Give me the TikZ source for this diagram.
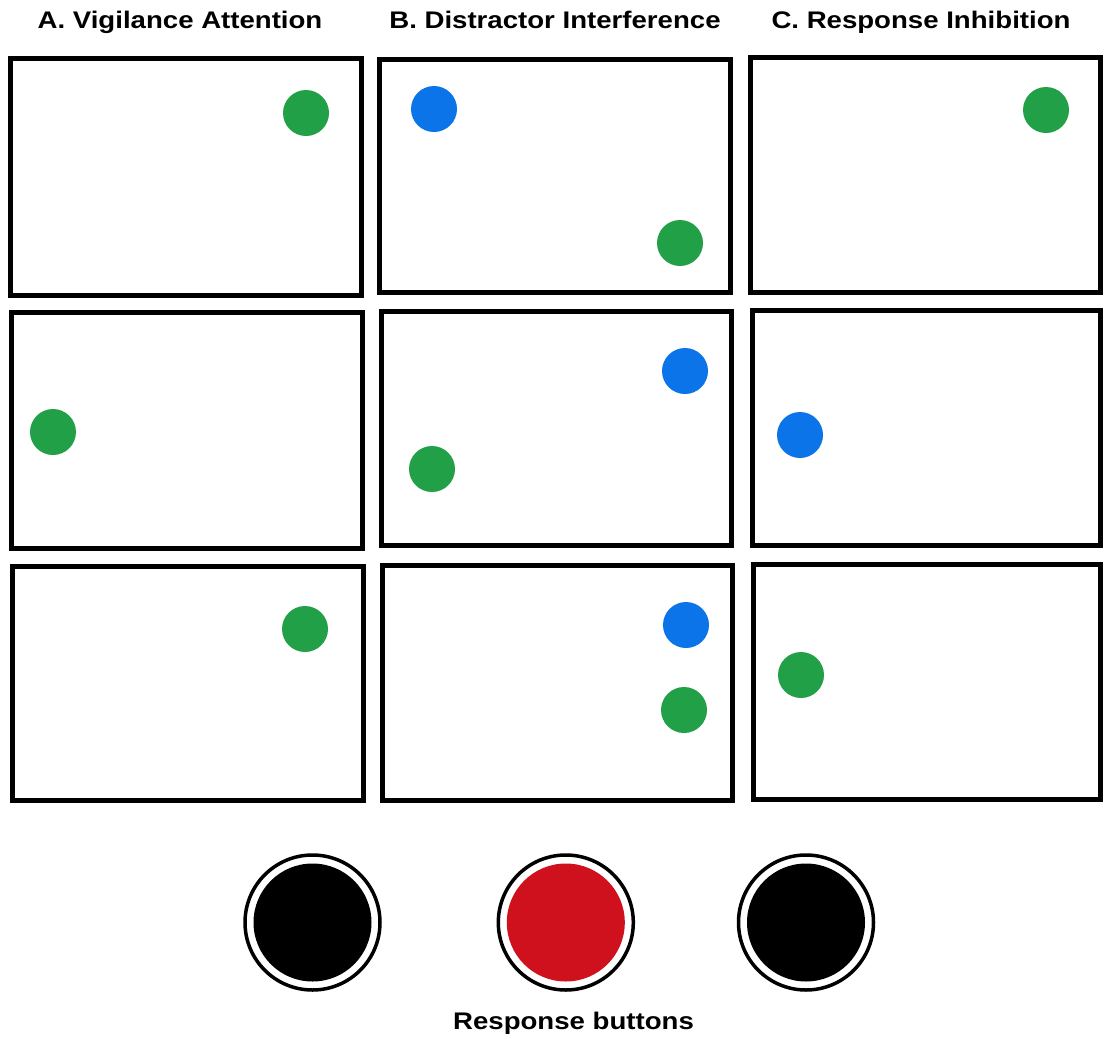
\documentclass[tikz,border=0pt]{standalone}
\usepackage{fontspec}
\setmainfont{Liberation Sans}
\definecolor{dotgreen}{RGB}{33,160,71}
\definecolor{dotblue}{RGB}{10,116,232}
\definecolor{btnred}{RGB}{206,17,28}
\tikzset{
  screen/.style={draw=black, line width=5pt},
  gdot/.style={circle, fill=dotgreen, inner sep=0pt, minimum size=46pt},
  bdot/.style={circle, fill=dotblue, inner sep=0pt, minimum size=46pt},
  ring/.style={circle, draw=black, line width=3.5pt, fill=white, inner sep=0pt, minimum size=135pt},
  core/.style={circle, inner sep=0pt, minimum size=118pt},
  ttl/.style={anchor=base, inner sep=0pt, font=\fontsize{24}{28}\selectfont\bfseries}
}
\newcommand{\wide}[1]{\scalebox{1.15}[1]{#1}}
\begin{document}
\begin{tikzpicture}[x=1pt,y=-1pt]
\useasboundingbox[fill=white] (0,0) rectangle (1104,1039);
% titles
\node[ttl] (tA) at (180,28.5) {\wide{A. Vigilance Attention}};
\node[ttl] (tB) at (555,28.5) {\wide{B. Distractor Interference}};
\node[ttl] (tC) at (921,28.5) {\wide{C. Response Inhibition}};
% screens
\draw[screen] (10.8,58.5) rectangle (361.5,295.5);
\draw[screen] (11.5,312.5) rectangle (362.5,548.5);
\draw[screen] (12.5,566.5) rectangle (363.5,800.5);
\draw[screen] (379.5,59) rectangle (730.5,292.5);
\draw[screen] (381.5,311.5) rectangle (731.5,545.5);
\draw[screen] (382.5,565.5) rectangle (732.5,800.5);
\draw[screen] (750.5,57) rectangle (1100.5,292);
\draw[screen] (752.5,310.5) rectangle (1100.5,545);
\draw[screen] (753,564.5) rectangle (1100.5,799.5);
% dots
\node[gdot] (a1) at (306,113) {};
\node[gdot] (a2) at (53,432) {};
\node[gdot] (a3) at (305,629) {};
\node[bdot] (b1b) at (434,109) {};
\node[gdot] (b1g) at (680,243) {};
\node[bdot] (b2b) at (685,371) {};
\node[gdot] (b2g) at (432,469) {};
\node[bdot] (b3b) at (686,625) {};
\node[gdot] (b3g) at (684,710) {};
\node[gdot] (c1) at (1046,110) {};
\node[bdot] (c2) at (800,435) {};
\node[gdot] (c3) at (801,675) {};
% buttons
\node[ring] (r1) at (312.5,922.5) {};
\node[core, fill=black] (k1) at (r1.center) {};
\node[ring] (r2) at (565.8,922.5) {};
\node[core, fill=btnred] (k2) at (r2.center) {};
\node[ring] (r3) at (806,922.5) {};
\node[core, fill=black] (k3) at (r3.center) {};
\node[ttl] (tR) at (573.5,1029.5) {\wide{Response buttons}};
\end{tikzpicture}
\end{document}
